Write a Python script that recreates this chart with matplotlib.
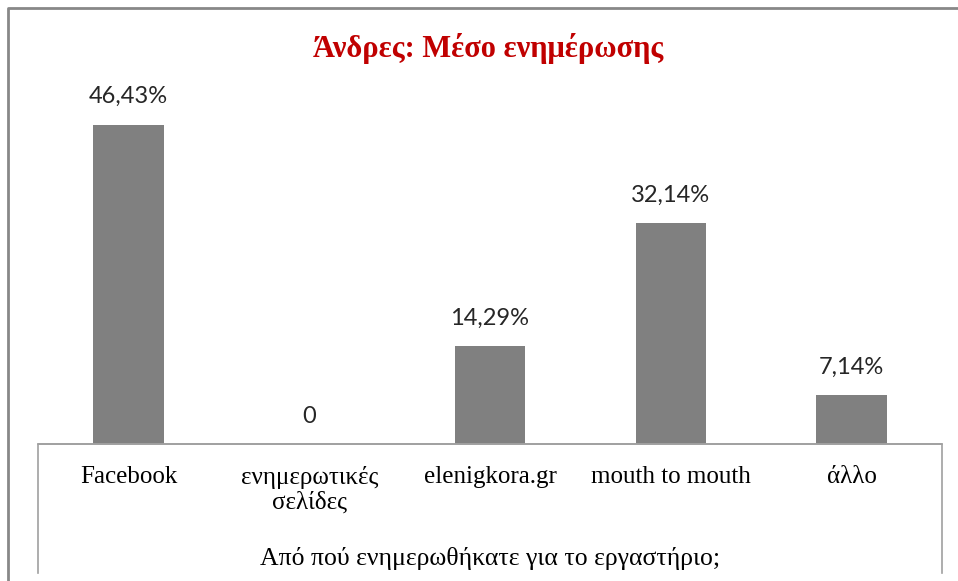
import matplotlib
matplotlib.use('Agg')
import matplotlib.pyplot as plt
from matplotlib.lines import Line2D

categories = ['Facebook', 'ενημερωτικές\nσελίδες', 'elenigkora.gr', 'mouth to mouth', 'άλλο']
values = [46.43, 0, 14.29, 32.14, 7.14]
labels = ['46,43%', '0', '14,29%', '32,14%', '7,14%']

W, H = 958, 581
fig = plt.figure(figsize=(W / 100, H / 100), dpi=100)

# plot area in pixels: x 38..942, baseline y=444, top y=100
ax = fig.add_axes([38 / W, 1 - 444 / H, (942 - 38) / W, (444 - 100) / H])
x = list(range(len(categories)))
ax.bar(x, values, width=0.39, color='#808080')
ax.set_xlim(-0.5, len(categories) - 0.5)
ax.set_ylim(0, 50)
for xi, v, lab in zip(x, values, labels):
    ax.annotate(lab, (xi, v), xytext=(0, 20), textcoords='offset points',
                ha='center', va='center', fontsize=17, family='Lato', color='#262626')

for s in ['top', 'left', 'right']:
    ax.spines[s].set_visible(False)
ax.spines['bottom'].set_color('#a0a0a0')
ax.spines['bottom'].set_linewidth(1.2)
ax.set_yticks([])
ax.set_xticks(x)
ax.set_xticklabels(categories, fontsize=18, family='Liberation Serif', linespacing=1.12)
ax.tick_params(axis='x', length=0, pad=16)

# category box and outer border
def px(xp, yp):
    return xp / W, 1 - yp / H

box = [px(38, 573), px(38, 444), px(942, 444), px(942, 573)]
fig.add_artist(Line2D([p[0] for p in box], [p[1] for p in box], color='#a0a0a0', lw=1.2))
outer = [px(8, 581), px(8, 8), px(958, 8)]
fig.add_artist(Line2D([p[0] for p in outer], [p[1] for p in outer], color='#888888', lw=2))

fig.text(488 / W, 1 - 48 / H, 'Άνδρες: Μέσο ενημέρωσης', ha='center', va='center',
         fontsize=22, fontweight='bold', family='Liberation Serif', color='#c00000')
fig.text(490 / W, 1 - 558 / H, 'Από πού ενημερωθήκατε για το εργαστήριο;', ha='center',
         va='center', fontsize=18.5, family='Liberation Serif', color='black')

fig.savefig('out.png', dpi=100)
